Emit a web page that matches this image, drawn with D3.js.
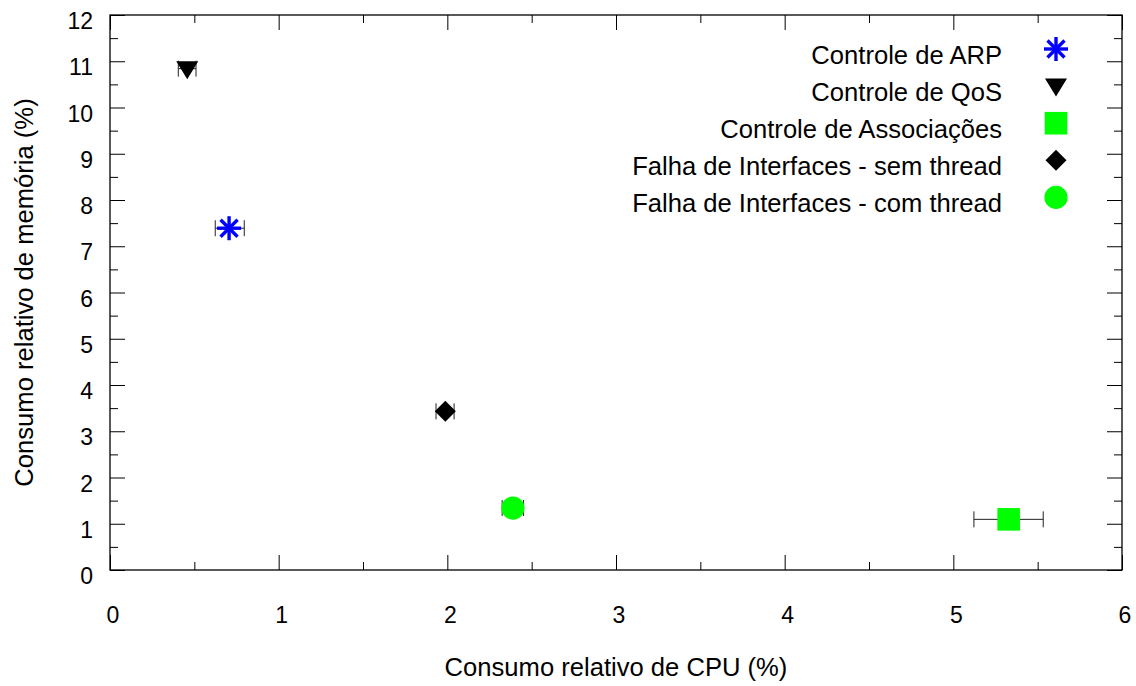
<!DOCTYPE html>
<html>
<head>
<meta charset="utf-8">
<script src="https://cdn.jsdelivr.net/npm/d3@7"></script>
<style>
  html, body { margin: 0; padding: 0; background: #fff; }
  svg { display: block; font-family: "Liberation Sans", Arial, Helvetica, sans-serif; }
</style>
</head>
<body>
<svg id="chart" width="1136" height="686"></svg>
<script>
// Series (one point each): label, CPU %, memory %, CPU error range
const seriesNames = [
  "Controle de ARP",
  "Controle de QoS",
  "Controle de Associações",
  "Falha de Interfaces - sem thread",
  "Falha de Interfaces - com thread"
];
const cpuValues = [0.706, 0.458, 5.328, 1.988, 2.389];
const memValues = [7.39, 10.84, 1.095, 3.43, 1.34];
const cpuLow    = [0.624, 0.405, 5.122, 1.933, 2.325];
const cpuHigh   = [0.796, 0.510, 5.533, 2.040, 2.452];
const symbols   = ["star", "triangleDown", "square", "diamond", "circle"];
const colors    = ["#0000ff", "#000000", "#00ff00", "#000000", "#00ff00"];

const xTickValues = [0, 1, 2, 3, 4, 5, 6];
const yTickValues = [0, 1, 2, 3, 4, 5, 6, 7, 8, 9, 10, 11, 12];
const xTitle = "Consumo relativo de CPU (%)";
const yTitle = "Consumo relativo de memória (%)";

const svg = d3.select("#chart");
const plotLeft = 110, plotRight = 1122, plotTop = 15, plotBottom = 570;

const x = d3.scaleLinear().domain([0, 6]).range([plotLeft, plotRight]);
const y = d3.scaleLinear().domain([0, 12]).range([plotBottom, plotTop]);

const xMinor = d3.range(0.5, 6, 1);
const yMinor = d3.range(0.5, 12, 1);

const majorLen = 15, minorLen = 8;

// Inward ticks on all four sides
function addAxis(axisFn, scale, values, len, transform) {
  const g = svg.append("g")
    .attr("transform", transform)
    .call(axisFn(scale).tickValues(values).tickSize(-len).tickFormat(""));
  g.select(".domain").remove();
  g.selectAll(".tick line").attr("stroke", "#000").attr("stroke-width", 1);
}
addAxis(d3.axisBottom, x, xTickValues, majorLen, `translate(0,${plotBottom})`);
addAxis(d3.axisBottom, x, xMinor, minorLen, `translate(0,${plotBottom})`);
addAxis(d3.axisTop, x, xTickValues, majorLen, `translate(0,${plotTop})`);
addAxis(d3.axisTop, x, xMinor, minorLen, `translate(0,${plotTop})`);
addAxis(d3.axisLeft, y, yTickValues, majorLen, `translate(${plotLeft},0)`);
addAxis(d3.axisLeft, y, yMinor, minorLen, `translate(${plotLeft},0)`);
addAxis(d3.axisRight, y, yTickValues, majorLen, `translate(${plotRight},0)`);
addAxis(d3.axisRight, y, yMinor, minorLen, `translate(${plotRight},0)`);

// Frame
svg.append("rect")
  .attr("x", plotLeft).attr("y", plotTop)
  .attr("width", plotRight - plotLeft).attr("height", plotBottom - plotTop)
  .attr("fill", "none").attr("stroke", "#000").attr("stroke-width", 1.3);

// Tick labels
svg.append("g").selectAll("text").data(xTickValues).join("text")
  .attr("x", d => x(d) + 3)
  .attr("y", plotBottom + 52.5)
  .attr("text-anchor", "middle")
  .attr("font-size", 23)
  .text(d => d);

svg.append("g").selectAll("text").data(yTickValues).join("text")
  .attr("x", plotLeft - 17)
  .attr("y", d => y(d) + 14)
  .attr("text-anchor", "end")
  .attr("font-size", 23)
  .text(d => d);

// Axis titles
svg.append("text")
  .attr("x", (plotLeft + plotRight) / 2)
  .attr("y", 676)
  .attr("text-anchor", "middle")
  .attr("font-size", 25.6)
  .text(xTitle);

svg.append("text")
  .attr("transform", `translate(33,${(plotTop + plotBottom) / 2}) rotate(-90)`)
  .attr("text-anchor", "middle")
  .attr("font-size", 25.6)
  .text(yTitle);

// Marker drawing
function drawSymbol(g, type, cx, cy, color) {
  if (type === "star") {
    const r = 12;
    for (let a = 0; a < 4; a++) {
      const ang = a * Math.PI / 4;
      g.append("line")
        .attr("x1", cx - r * Math.cos(ang)).attr("y1", cy - r * Math.sin(ang))
        .attr("x2", cx + r * Math.cos(ang)).attr("y2", cy + r * Math.sin(ang))
        .attr("stroke", color).attr("stroke-width", 3.4);
    }
  } else if (type === "triangleDown") {
    const hw = 11;
    g.append("path")
      .attr("d", `M${cx - hw},${cy - 7.5}L${cx + hw},${cy - 7.5}L${cx},${cy + 10.5}Z`)
      .attr("fill", color);
  } else if (type === "square") {
    const h = 11.3;
    g.append("rect")
      .attr("x", cx - h).attr("y", cy - h)
      .attr("width", 2 * h).attr("height", 2 * h)
      .attr("fill", color);
  } else if (type === "diamond") {
    const h = 10.5;
    g.append("path")
      .attr("d", `M${cx},${cy - h}L${cx + h},${cy}L${cx},${cy + h}L${cx - h},${cy}Z`)
      .attr("fill", color);
  } else if (type === "circle") {
    g.append("circle")
      .attr("cx", cx).attr("cy", cy).attr("r", 11.6)
      .attr("fill", color);
  }
}

// Horizontal error bars
const capHalf = 8;
const errG = svg.append("g");
cpuValues.forEach((v, i) => {
  const yy = y(memValues[i]);
  const x0 = x(cpuLow[i]), x1 = x(cpuHigh[i]);
  errG.append("line").attr("x1", x0).attr("x2", x1).attr("y1", yy).attr("y2", yy)
    .attr("stroke", "#222").attr("stroke-width", 1);
  [x0, x1].forEach(xx => {
    errG.append("line").attr("x1", xx).attr("x2", xx)
      .attr("y1", yy - capHalf).attr("y2", yy + capHalf)
      .attr("stroke", "#222").attr("stroke-width", 1);
  });
});

// Points
const ptG = svg.append("g");
cpuValues.forEach((v, i) => {
  drawSymbol(ptG, symbols[i], x(v), y(memValues[i]), colors[i]);
});

// Legend
const legG = svg.append("g");
const legTextX = 1002, legMarkX = 1056, legY0 = 49, legStep = 37.1;
seriesNames.forEach((name, i) => {
  const ly = legY0 + i * legStep;
  legG.append("text")
    .attr("x", legTextX).attr("y", ly + 14.5)
    .attr("text-anchor", "end")
    .attr("font-size", 25.6)
    .text(name);
  drawSymbol(legG, symbols[i], legMarkX, ly, colors[i]);
});
</script>
</body>
</html>
